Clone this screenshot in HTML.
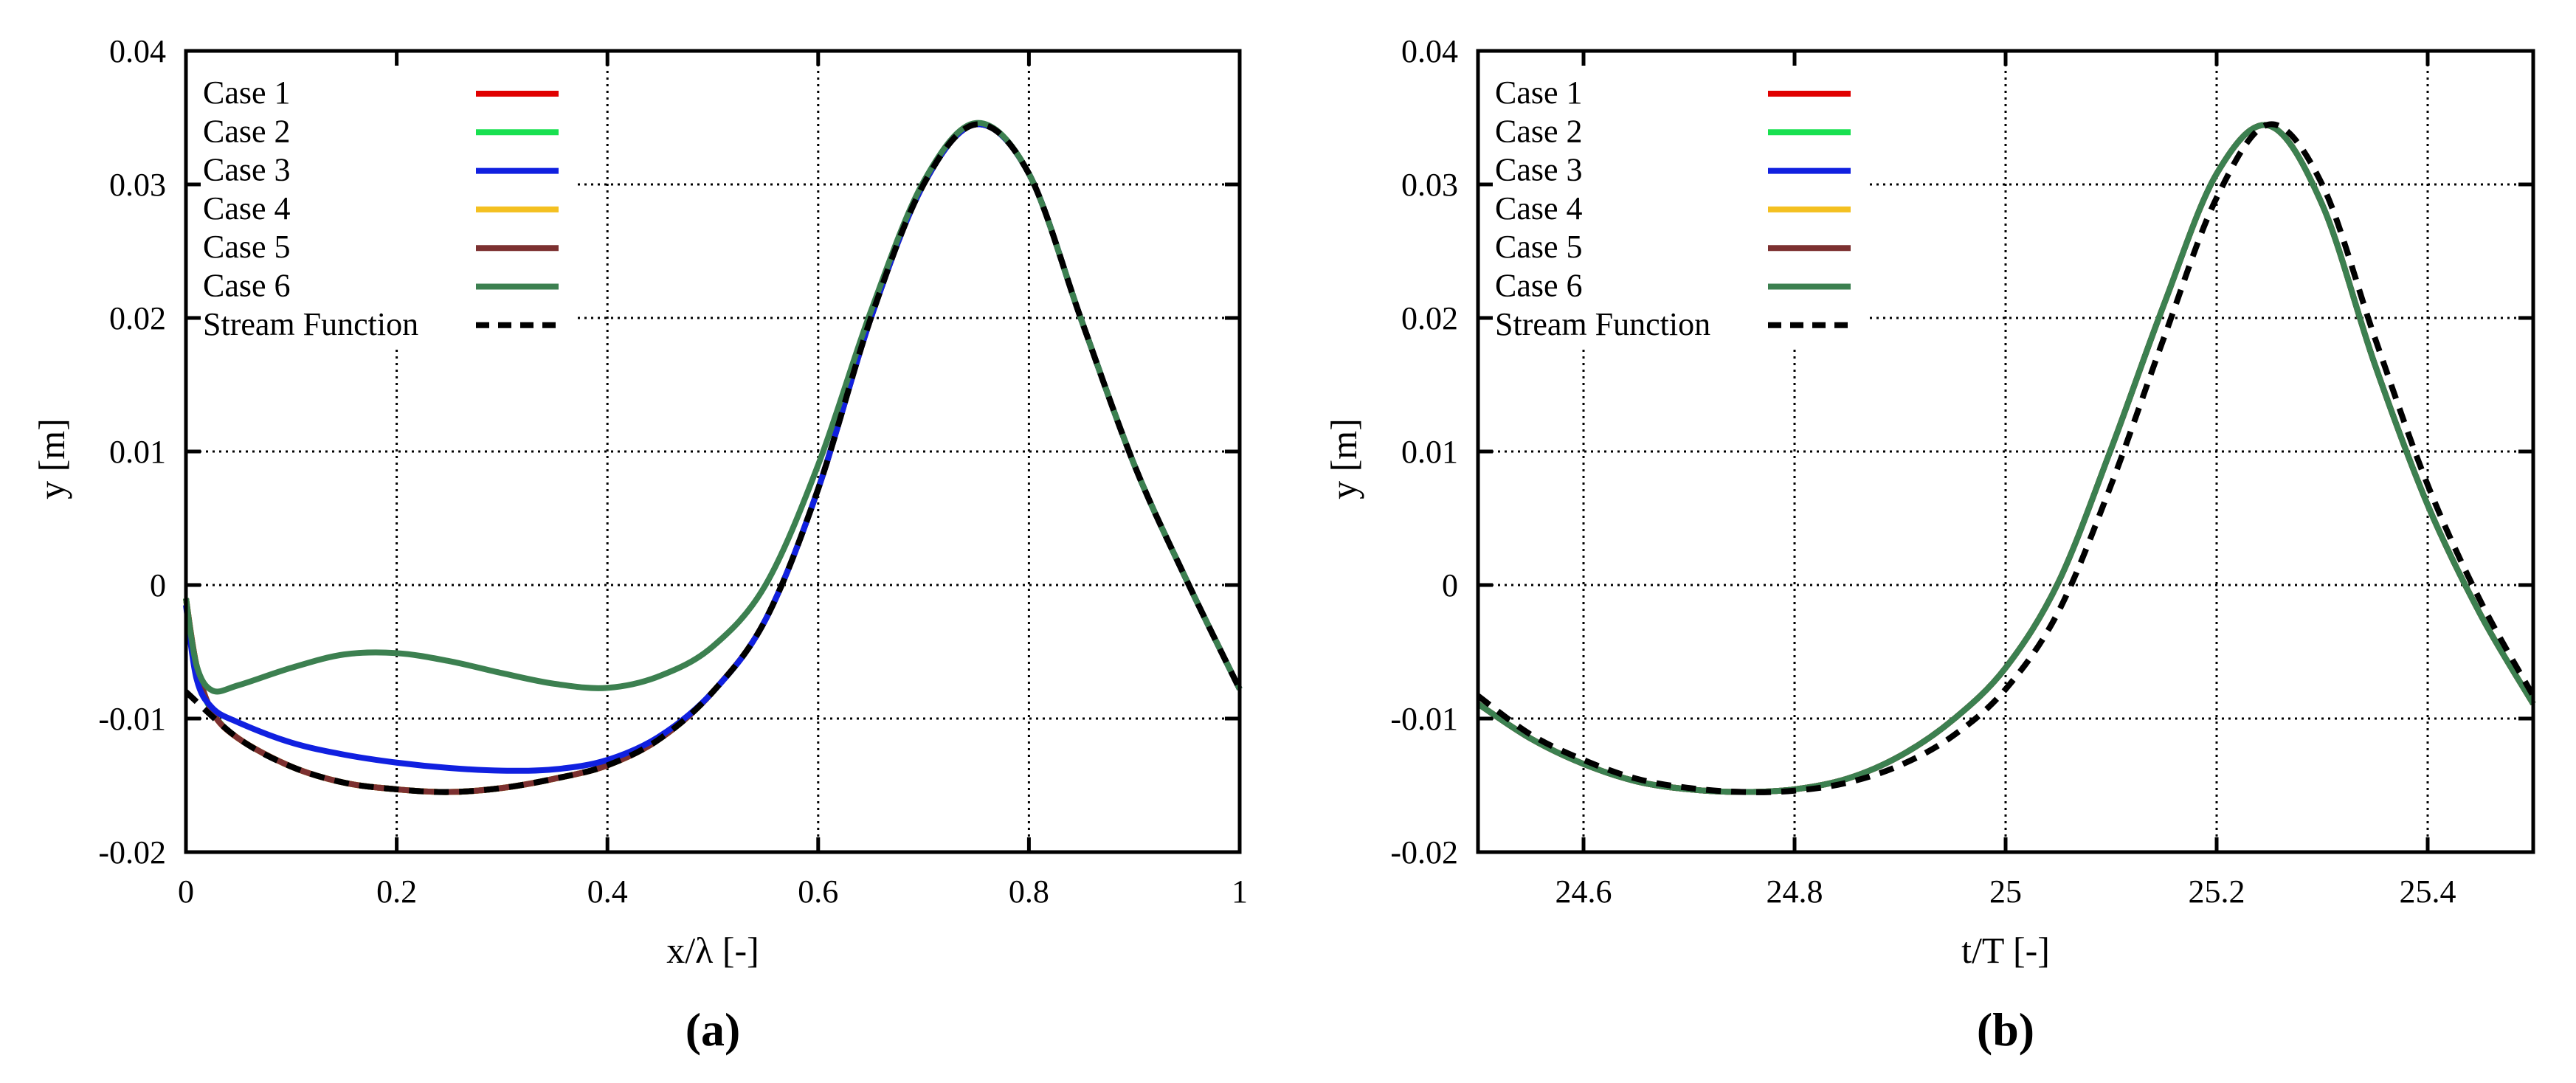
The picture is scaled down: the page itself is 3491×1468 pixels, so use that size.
<!DOCTYPE html>
<html><head><meta charset="utf-8"><style>
html,body{margin:0;padding:0;background:#fff;}
svg{display:block;}
text{font-family:"Liberation Serif",serif;fill:#000;}
</style></head><body>
<svg id="fig" width="3491" height="1468" viewBox="0 0 3491 1468" xmlns="http://www.w3.org/2000/svg"></svg>
<script>
// ---------- Data: panel (a) ----------
const xA = [0,0.01,0.025,0.05,0.1,0.15,0.2,0.25,0.3,0.35,0.4,0.45,0.5,0.55,0.6,0.65,0.7,0.75,0.8,0.85,0.9,0.95,1.0];
const streamX = [0,0.05,0.1,0.15,0.2,0.25,0.3,0.35,0.4,0.45,0.5,0.55,0.6,0.65,0.7,0.75,0.8,0.85,0.9,0.95,1.0];
const streamA = [-0.0080,-0.0115,-0.0136,-0.0148,-0.0153,-0.0155,-0.0152,-0.0145,-0.0135,-0.0115,-0.0080,-0.0026,0.0072,0.0200,0.0300,0.0345,0.0308,0.0198,0.0090,0.0003,-0.0078];
const case1A = [-0.0010,-0.0060,-0.0095,-0.0115,-0.0136,-0.0148,-0.0153,-0.0155,-0.0152,-0.0145,-0.0135,-0.0115,-0.0080,-0.0026,0.0072,0.0200,0.0300,0.0345,0.0308,0.0198,0.0090,0.0003,-0.0078];
const case3A = [-0.0015,-0.0070,-0.0092,-0.0103,-0.0118,-0.0127,-0.0133,-0.0137,-0.0139,-0.0138,-0.0131,-0.0113,-0.0080,-0.0026,0.0072,0.0200,0.0300,0.0345,0.0308,0.0198,0.0090,0.0003,-0.0078];
const case6A = [-0.0010,-0.0060,-0.0079,-0.0075,-0.0062,-0.0052,-0.0051,-0.0057,-0.0066,-0.0074,-0.0077,-0.0068,-0.0046,0.0000,0.0090,0.0205,0.0302,0.0346,0.0308,0.0198,0.0090,0.0003,-0.0078];
// ---------- Data: panel (b) ----------
const tB = [24.5,24.55,24.6,24.65,24.7,24.75,24.8,24.85,24.9,24.95,25.0,25.05,25.1,25.15,25.2,25.25,25.3,25.35,25.4,25.45,25.5];
const casesB = [-0.0089,-0.0115,-0.0134,-0.0147,-0.0153,-0.0155,-0.0153,-0.0145,-0.0128,-0.0101,-0.0062,0.0002,0.0102,0.0210,0.0308,0.0344,0.0285,0.0165,0.0060,-0.0022,-0.0089];
const streamB = [-0.0083,-0.0112,-0.0131,-0.0145,-0.0152,-0.0155,-0.0154,-0.0148,-0.0135,-0.0113,-0.0078,-0.0020,0.0075,0.0185,0.0290,0.0345,0.0300,0.0185,0.0075,-0.0012,-0.0083];
// ---------- Ticks ----------
const yTicks = [-0.02,-0.01,0,0.01,0.02,0.03,0.04];
const yTickLabels = ["-0.02","-0.01","0","0.01","0.02","0.03","0.04"];
const xTicksA = [0,0.2,0.4,0.6,0.8,1];
const xTickLabelsA = ["0","0.2","0.4","0.6","0.8","1"];
const xTicksB = [24.6,24.8,25,25.2,25.4];
const xTickLabelsB = ["24.6","24.8","25","25.2","25.4"];
const legendLabels = ["Case 1","Case 2","Case 3","Case 4","Case 5","Case 6","Stream Function"];
const colors = ["#e00000","#18e050","#1020e0","#f4c020","#7c3030","#3c8050","#000"];

const NS="http://www.w3.org/2000/svg";
const svg=document.getElementById('fig');
function mk(tag,attrs,parent){const e=document.createElementNS(NS,tag);for(const k in attrs)e.setAttribute(k,attrs[k]);(parent||svg).appendChild(e);return e;}
function smooth(pts){let d=`M${pts[0][0]},${pts[0][1]}`;for(let i=0;i<pts.length-1;i++){const p0=pts[Math.max(0,i-1)],p1=pts[i],p2=pts[i+1],p3=pts[Math.min(pts.length-1,i+2)];const c1x=p1[0]+(p2[0]-p0[0])/6,c1y=p1[1]+(p2[1]-p0[1])/6,c2x=p2[0]-(p3[0]-p1[0])/6,c2y=p2[1]-(p3[1]-p1[1])/6;d+=` C${c1x},${c1y} ${c2x},${c2y} ${p2[0]},${p2[1]}`;}return d;}

function panel(cfg){
  const {L,R,T,B,xmin,xmax,xt,xtl,title,label,series,id}=cfg;
  const g=mk('g',{});
  
  
  const X=v=>L+(v-xmin)/(xmax-xmin)*(R-L);
  const Y=v=>B-(v+0.02)/0.06*(B-T);
  const grid=mk('g',{stroke:'#000','stroke-width':3,'stroke-dasharray':'3 6'},g);
  
  
  xt.forEach(v=>{if(X(v)>L+3&&X(v)<R-3)mk('line',{x1:X(v),y1:T,x2:X(v),y2:B},grid);});
  yTicks.forEach(v=>{if(Y(v)>T+3&&Y(v)<B-3)mk('line',{x1:L,y1:Y(v),x2:R,y2:Y(v)},grid);});
  mk('rect',{x:L,y:T,width:526,height:399,fill:'#fff'},g);
  const cg=mk('g',{fill:'none'},g);
  series.forEach(s=>{
    const pts=s.x.map((v,i)=>[X(v),Y(s.y[i])]);
    const p=mk('path',{d:smooth(pts),stroke:s.c,'stroke-width':8,'stroke-linejoin':'round','stroke-dasharray':s.dash||'none'},cg);
    
    
  });
  const ax=mk('g',{stroke:'#000','stroke-width':5,fill:'none'},g);
  
  
  mk('rect',{x:L,y:T,width:R-L,height:B-T},ax);
  xt.forEach(v=>{mk('line',{x1:X(v),y1:B,x2:X(v),y2:B-20},ax);mk('line',{x1:X(v),y1:T,x2:X(v),y2:T+20},ax);});
  yTicks.forEach(v=>{mk('line',{x1:L,y1:Y(v),x2:L+20,y2:Y(v)},ax);mk('line',{x1:R,y1:Y(v),x2:R-20,y2:Y(v)},ax);});
  yTicks.forEach((v,i)=>{const t=mk('text',{x:L-27,y:Y(v)+15,'text-anchor':'end','font-size':44},g);t.textContent=yTickLabels[i];
    
    });
  xt.forEach((v,i)=>{const t=mk('text',{x:X(v),y:B+68,'text-anchor':'middle','font-size':44},g);t.textContent=xtl[i];
    
    });
  const yt=mk('text',{x:0,y:0,'text-anchor':'middle','font-size':50,transform:`translate(${L-165},${(T+B)/2+10}) rotate(-90)`},g);
  yt.textContent='y [m]';
  
  
  const xtt=mk('text',{x:(L+R)/2,y:B+150,'text-anchor':'middle','font-size':50},g);
  xtt.textContent=title;
  
  
  const lab=mk('text',{x:(L+R)/2,y:1417,'text-anchor':'middle','font-size':64,'font-weight':'bold'},g);
  lab.textContent=label;
  
  
  const lg=mk('g',{},g);
  
  
  legendLabels.forEach((s,i)=>{
    const y=T+71+i*52.3;
    const t=mk('text',{x:L+23,y:y,'font-size':44},lg);t.textContent=s;
    
    
    const ln=mk('line',{x1:L+393,y1:y-13,x2:L+505,y2:y-13,stroke:colors[i],'stroke-width':8,'stroke-dasharray':i==6?'18 12':'none'},lg);
    
    
  });
}
const dashStream='20 14';
panel({id:'a',L:252,R:1680,T:69,B:1155,xmin:0,xmax:1,xt:xTicksA,xtl:xTickLabelsA,title:'x/\u03bb [-]',label:'(a)',series:[
  {n:'case-1-line',x:xA,y:case1A,c:colors[0]},
  {n:'case-2-line',x:xA,y:case1A.map((v,i)=>i==1?v-0.0004:v),c:colors[1]},
  {n:'case-4-line',x:xA,y:case1A,c:colors[3]},
  {n:'case-5-line',x:xA,y:case1A,c:colors[4]},
  {n:'case-3-line',x:xA,y:case3A,c:colors[2]},
  {n:'case-6-line',x:xA,y:case6A,c:colors[5]},
  {n:'stream-function-line',x:streamX,y:streamA,c:'#000',dash:dashStream}]});
panel({id:'b',L:2003,R:3433,T:69,B:1155,xmin:24.5,xmax:25.5,xt:xTicksB,xtl:xTickLabelsB,title:'t/T [-]',label:'(b)',series:[
  {n:'case-1-line',x:tB,y:casesB,c:colors[0]},
  {n:'case-2-line',x:tB,y:casesB,c:colors[1]},
  {n:'case-3-line',x:tB,y:casesB,c:colors[2]},
  {n:'case-4-line',x:tB,y:casesB,c:colors[3]},
  {n:'case-5-line',x:tB,y:casesB,c:colors[4]},
  {n:'case-6-line',x:tB,y:casesB,c:colors[5]},
  {n:'stream-function-line',x:tB,y:streamB,c:'#000',dash:dashStream}]});
</script>
</body></html>
